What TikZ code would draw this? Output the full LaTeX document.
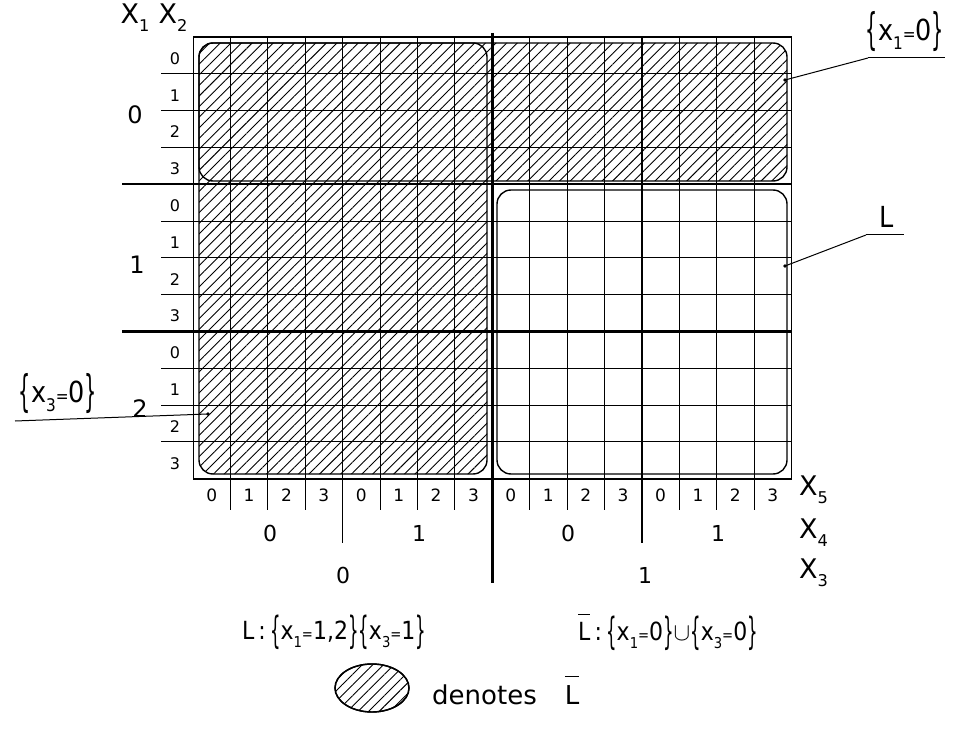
\documentclass[tikz,border=0pt]{standalone}
\usepackage{fontspec}
\usepackage{graphicx}
\setmainfont{DejaVu Sans}
\newfontfamily\cond[FakeStretch=0.88]{DejaVu Sans}
\usetikzlibrary{patterns.meta}
\newcommand{\Lbar}{\ensuremath{\overline{\mbox{\raisebox{0pt}[1.4\height][0pt]{L}}}}}
\newcommand{\lb}{\raisebox{-0.14em}{\scalebox{0.75}[1.5]{\{}}}
\newcommand{\rb}{\raisebox{-0.14em}{\scalebox{0.75}[1.5]{\}}}}
\newcommand{\eq}{{\scalebox{0.6}{=}}}
\newcommand{\sub}[1]{\raisebox{-0.3em}{\scalebox{0.6}{#1}}}
\begin{document}
\begin{tikzpicture}[x=1pt,y=-1pt,
  hatch/.style={pattern={Lines[angle=45,distance=7.5pt,line width=0.9pt]}},
  region/.style={draw, line width=1.4pt, rounded corners=14pt},
  gridline/.style={line width=0.8pt},
  heavy/.style={line width=2.3pt},
  rowlab/.style={font=\fontsize{16}{16}\selectfont, inner sep=0pt},
  collab/.style={font=\fontsize{17}{17}\selectfont, inner sep=0pt},
  biglab/.style={font=\fontsize{22}{22}\selectfont, inner sep=0pt},
  x1lab/.style={font=\fontsize{24}{24}\selectfont, inner sep=0pt},
  axlab/.style={font=\fontsize{27}{27}\selectfont, inner sep=0pt},
  formula/.style={font=\cond\fontsize{25}{25}\selectfont, inner sep=0pt},
  annot/.style={font=\cond\fontsize{29}{29}\selectfont, inner sep=0pt},
  leader/.style={line width=1pt}]
\useasboundingbox (0,0) rectangle (956,730);
\fill[white] (0,0) rectangle (956,730);

% hatched region (union of {x1=0} and {x3=0})
\fill[hatch, rounded corners=14pt] (199,43) rectangle (787,181) (199,43) rectangle (487,474);

% grid
\foreach \i in {0,...,16} {
  \draw[gridline] ({193+\i*37.4},37) -- ({193+\i*37.4},479);
}
\foreach \j in {0,...,12} {
  \draw[gridline] (193,{37+\j*36.8}) -- (791,{37+\j*36.8});
}
% outer rectangle
\draw[line width=1pt] (193,37) rectangle (791,479);

% row label separators
\foreach \b in {0,4,8} {
  \foreach \k in {1,2,3} {
    \draw[gridline] (161,{37+(\b+\k)*36.8}) -- (193,{37+(\b+\k)*36.8});
  }
}
% x1 boundaries
\draw[heavy] (122,184.2) -- (791,184.2);
\draw[heavy] (122,331.4) -- (791,331.4);
% column ticks
\foreach \i in {1,2,3,5,6,7,9,10,11,13,14,15} {
  \draw[gridline] ({193+\i*37.4},479) -- ({193+\i*37.4},510);
}
% x4 boundaries
\draw[line width=1.5pt] (342.6,37) -- (342.6,543);
\draw[line width=1.5pt] (641.8,37) -- (641.8,543);
% x3 boundary
\draw[line width=3.2pt] (492.2,33) -- (492.2,583);

% region outlines
\draw[region] (199,43) rectangle (787,181);
\draw[region] (199,43) rectangle (487,474);
\draw[region] (497,190) rectangle (787,474);

% axis labels
\node[axlab] (hx1) at (135,18) {X\sub{1}};
\node[axlab] (hx2) at (173,18) {X\sub{2}};
\node[x1lab] (r0) at (135,115) {0};
\node[x1lab] (r1) at (137,265) {1};
\node[x1lab] (r2) at (140,409) {2};
\foreach \b in {0,1,2} {
  \foreach \k in {0,1,2,3} {
    \node[rowlab] (rl\b\k) at (175,{37+(\b*4+\k+0.5)*36.8+3}) {\k};
  }
}
\foreach \i in {0,...,15} {
  \pgfmathtruncatemacro{\v}{mod(\i,4)}
  \node[collab] (cl\i) at ({193+(\i+0.5)*37.4},495) {\v};
}
\node[biglab] (c40) at (270,533) {0};
\node[biglab] (c41) at (419,533) {1};
\node[biglab] (c42) at (568,533) {0};
\node[biglab] (c43) at (718,533) {1};
\node[biglab] (c30) at (343,575) {0};
\node[biglab] (c31) at (645,575) {1};
\node[axlab, anchor=west] (hx5) at (799,490) {X\sub{5}};
\node[axlab, anchor=west] (hx4) at (799,533) {X\sub{4}};
\node[axlab, anchor=west] (hx3) at (799,573) {X\sub{3}};

% annotations
\node[annot] (ax1) at (905,32) {\lb x\sub{1}\eq0\rb};
\coordinate (ax1a) at (868,58);
\coordinate (ax1b) at (945,58);
\coordinate (ax1p) at (785,80);
\draw[leader] (ax1a) -- (ax1b);
\draw[leader] (ax1p) -- (ax1a);
\fill (ax1p) circle (1.8pt);

\node[annot] (aL) at (887,217) {L};
\coordinate (aLa) at (866,235);
\coordinate (aLb) at (904,235);
\coordinate (aLp) at (785,266);
\draw[leader] (aLa) -- (aLb);
\draw[leader] (aLp) -- (aLa);
\fill (aLp) circle (1.8pt);

\node[annot] (ax3) at (58,394) {\lb x\sub{3}\eq0\rb};
\coordinate (ax3a) at (15,421);
\coordinate (ax3p) at (208,414);
\draw[leader] (ax3a) -- (ax3p);
\fill (ax3p) circle (1.8pt);

% formulas
\node[formula] (fL) at (334,632) {L\,:\,\lb x\sub{1}\eq1,2\rb\lb x\sub{3}\eq1\rb};
\node[formula] (fLb) at (668,632) {\Lbar\,:\,\lb x\sub{1}\eq0\rb$\cup$\lb x\sub{3}\eq0\rb};

% legend
\draw[hatch, line width=1.4pt] (372,688) ellipse (37pt and 24pt);
\draw[line width=1.4pt] (372,688) ellipse (37pt and 24pt);
\node[font=\fontsize{26}{26}\selectfont, inner sep=0pt, anchor=west] (den) at (432,690) {denotes\hspace{28pt}\Lbar};
\end{tikzpicture}
\end{document}
